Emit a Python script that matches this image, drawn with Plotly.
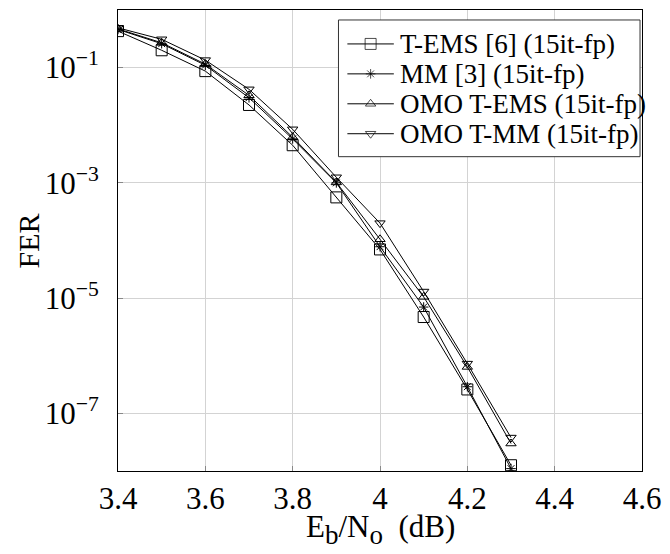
import plotly.graph_objects as go

ebno = [3.4, 3.5, 3.6, 3.7, 3.8, 3.9, 4.0, 4.1, 4.2, 4.3]
fer_tems = [0.43, 0.20, 0.087, 0.0225, 0.0045, 5.6e-4, 7.0e-5, 4.7e-6, 2.6e-7, 1.26e-8]
fer_mm = [0.46, 0.26, 0.11, 0.030, 0.0058, 1.0e-3, 7.8e-5, 7.0e-6, 2.9e-7, 1.1e-8]
fer_omo_tems = [0.47, 0.27, 0.115, 0.033, 0.0062, 1.02e-3, 1.05e-4, 1.05e-5, 6.4e-7, 3.0e-8]
fer_omo_tmm = [0.49, 0.31, 0.135, 0.042, 0.0085, 1.25e-3, 2.0e-4, 1.3e-5, 7.3e-7, 3.8e-8]

names = ["T-EMS [6] (15it-fp)", "MM [3] (15it-fp)", "OMO T-EMS (15it-fp)", "OMO T-MM (15it-fp)"]
series = [fer_tems, fer_mm, fer_omo_tems, fer_omo_tmm]
symbols = ["square-open", "asterisk-open", "triangle-up-open", "triangle-down-open"]
sizes = [11, 8, 9, 9]

xticks = [3.4, 3.6, 3.8, 4.0, 4.2, 4.4, 4.6]
xticktext = ["3.4", "3.6", "3.8", "4", "4.2", "4.4", "4.6"]
yticks = [1e-1, 1e-3, 1e-5, 1e-7]
yticktext = ["10<sup>−1</sup>", "10<sup>−3</sup>", "10<sup>−5</sup>", "10<sup>−7</sup>"]

font = "Liberation Serif"
W, H = 670, 554
L, R, T, B = 118, 648, 9, 471  # plot area in pixels


def px(xp):
    return (xp - L) / (R - L)


def py(yp):
    return (B - yp) / (B - T)


fig = go.Figure()
for n, s, sym, sz in zip(names, series, symbols, sizes):
    fig.add_trace(go.Scatter(
        x=ebno, y=s, name=n, mode="lines+markers", showlegend=False,
        line=dict(color="black", width=1),
        marker=dict(symbol=sym, size=sz, color="black", line=dict(width=1, color="black")),
    ))

# manual legend drawn on a pixel-coordinate overlay axis
x0, y0, x1, y1 = 341, 19, 646, 156
fig.add_trace(go.Scatter(
    x=[x0, x1, x1, x0, x0], y=[y0, y0, y1, y1, y0], xaxis="x2", yaxis="y2",
    mode="lines", fill="toself", fillcolor="white",
    line=dict(color="#333", width=1), showlegend=False, hoverinfo="skip",
))
leg_rows = [43, 73, 103, 133]
for n, sym, sz, yy in zip(names, symbols, sizes, leg_rows):
    fig.add_trace(go.Scatter(
        x=[350, 373.5, 397], y=[yy, yy, yy], xaxis="x2", yaxis="y2",
        mode="lines+markers", showlegend=False, hoverinfo="skip",
        line=dict(color="black", width=1),
        marker=dict(symbol=sym, size=[0, sz, 0], color="black", line=dict(width=1, color="black")),
    ))
    fig.add_annotation(x=px(401), y=py(yy), xref="paper", yref="paper", text=n, showarrow=False,
                       xanchor="left", yanchor="middle",
                       font=dict(family=font, size=27, color="black"))

# axis titles
fig.add_annotation(x=px(383), y=py(530), xref="paper", yref="paper", showarrow=False,
                   text="E<sub><span style='font-size:27px'>b</span></sub>/N<sub><span style='font-size:27px'>o</span></sub>  (dB)",
                   xanchor="center", yanchor="middle",
                   font=dict(family=font, size=31, color="black"))
fig.add_annotation(x=px(27), y=py(241), xref="paper", yref="paper", showarrow=False,
                   text="FER", textangle=-90,
                   xanchor="center", yanchor="middle",
                   font=dict(family=font, size=30, color="black"))

fig.update_layout(
    width=W, height=H,
    margin=dict(l=L, r=W - R, t=T, b=H - B),
    plot_bgcolor="white", paper_bgcolor="white",
    font=dict(family=font, size=26, color="black"),
    showlegend=False,
    xaxis=dict(range=[3.4, 4.6], tickvals=xticks, ticktext=xticktext,
               showgrid=True, gridcolor="#d3d3d3", gridwidth=1,
               showline=True, linecolor="black", linewidth=1, mirror=True,
               ticks="inside", ticklen=5, tickcolor="#888", zeroline=False,
               tickfont=dict(family=font, size=31)),
    yaxis=dict(type="log", range=[-8, 0], tickvals=yticks, ticktext=yticktext,
               showgrid=True, gridcolor="#d3d3d3", gridwidth=1,
               showline=True, linecolor="black", linewidth=1, mirror=True,
               ticks="inside", ticklen=5, tickcolor="#888", zeroline=False,
               tickfont=dict(family=font, size=31), ticklabelstandoff=12),
    xaxis2=dict(overlaying="x", range=[L, R], visible=False, fixedrange=True),
    yaxis2=dict(overlaying="y", range=[B, T], visible=False, fixedrange=True),
)

fig.write_html("out.html", config={"displayModeBar": False},
               post_script="document.body.style.margin='0';")
